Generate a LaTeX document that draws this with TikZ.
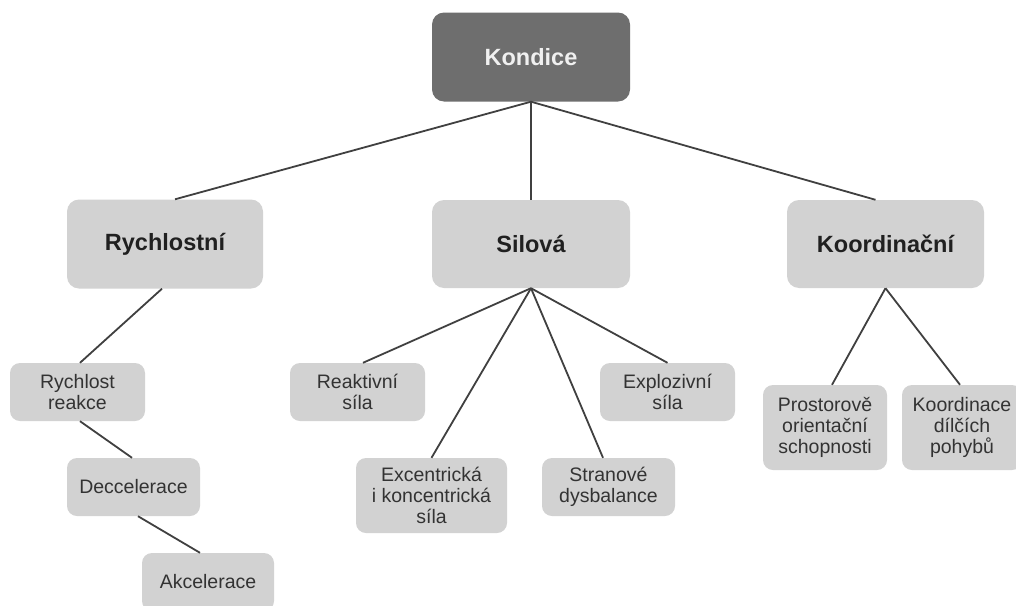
\documentclass[tikz,border=0pt]{standalone}
\usepackage{fontspec}
\setmainfont{Liberation Sans}
\definecolor{boxgray}{HTML}{D2D2D2}
\definecolor{topgray}{HTML}{6E6E6E}
\definecolor{linegray}{HTML}{404040}
\definecolor{txtdark}{HTML}{202020}
\definecolor{txtsmall}{HTML}{333333}
\tikzset{
  bigbox/.style={rectangle, rounded corners=12pt, fill=boxgray, inner sep=0pt,
    text=txtdark, font=\fontsize{23.5}{26}\selectfont\bfseries, align=center},
  topbox/.style={bigbox, fill=topgray, text=white!94!black},
  smallbox/.style={rectangle, rounded corners=10pt, fill=boxgray, inner sep=0pt,
    text=txtsmall, font=\fontsize{19.5}{21}\selectfont, align=center},
  conn/.style={draw=linegray, line width=1.8pt}
}
\begin{document}
\begin{tikzpicture}[x=1pt,y=-1pt]
\useasboundingbox (0,0) rectangle (1016,605);
\clip (0,0) rectangle (1016,605);
\fill[white] (0,0) rectangle (1016,605);
% main boxes
\node[topbox, minimum width=198pt, minimum height=89pt] (kon) at (531,57) {Kondice};
\node[bigbox, minimum width=196pt, minimum height=89pt] (ry) at (165,244) {Rychlostní};
\node[bigbox, minimum width=198pt, minimum height=88pt] (si) at (531,244) {Silová};
\node[bigbox, minimum width=197pt, minimum height=88pt] (ko) at (885.5,244) {Koordinační};
% Rychlostní children
\node[smallbox, minimum width=135pt, minimum height=58pt] (rr) at (77.5,392) {Rychlost\\reakce};
\node[smallbox, minimum width=133pt, minimum height=58pt] (de) at (133.5,487) {Deccelerace};
\node[smallbox, minimum width=132pt, minimum height=58pt] (ak) at (208,582) {Akcelerace};
% Silová children
\node[smallbox, minimum width=135pt, minimum height=58pt] (re) at (357.5,392) {Reaktivní\\síla};
\node[smallbox, minimum width=151pt, minimum height=75pt] (ex) at (431.5,495.5) {Excentrická\\i koncentrická\\síla};
\node[smallbox, minimum width=133pt, minimum height=58pt] (st) at (608.5,487) {Stranové\\dysbalance};
\node[smallbox, minimum width=135pt, minimum height=58pt] (exp) at (667.5,392) {Explozivní\\síla};
% Koordinační children
\node[smallbox, minimum width=124pt, minimum height=85pt] (pr) at (825,427.5) {Prostorově\\orientační\\schopnosti};
\node[smallbox, minimum width=120pt, minimum height=85pt] (kd) at (962,427.5) {Koordinace\\dílčích\\pohybů};
% connectors
\draw[conn] (kon.south) -- ([xshift=10pt]ry.north);
\draw[conn] (kon.south) -- (si.north);
\draw[conn] (kon.south) -- ([xshift=-10pt]ko.north);
\draw[conn] ([xshift=-3pt]ry.south) -- ([xshift=2.5pt]rr.north);
\draw[conn] ([xshift=2.5pt]rr.south) -- ([xshift=-1.5pt]de.north);
\draw[conn] ([xshift=4.5pt]de.south) -- ([xshift=-8pt]ak.north);
\draw[conn] (si.south) -- ([xshift=5.5pt]re.north);
\draw[conn] (si.south) -- (ex.north);
\draw[conn] (si.south) -- ([xshift=-5.5pt]st.north);
\draw[conn] (si.south) -- (exp.north);
\draw[conn] (ko.south) -- ([xshift=7pt]pr.north);
\draw[conn] (ko.south) -- ([xshift=-2pt]kd.north);
\end{tikzpicture}
\end{document}
